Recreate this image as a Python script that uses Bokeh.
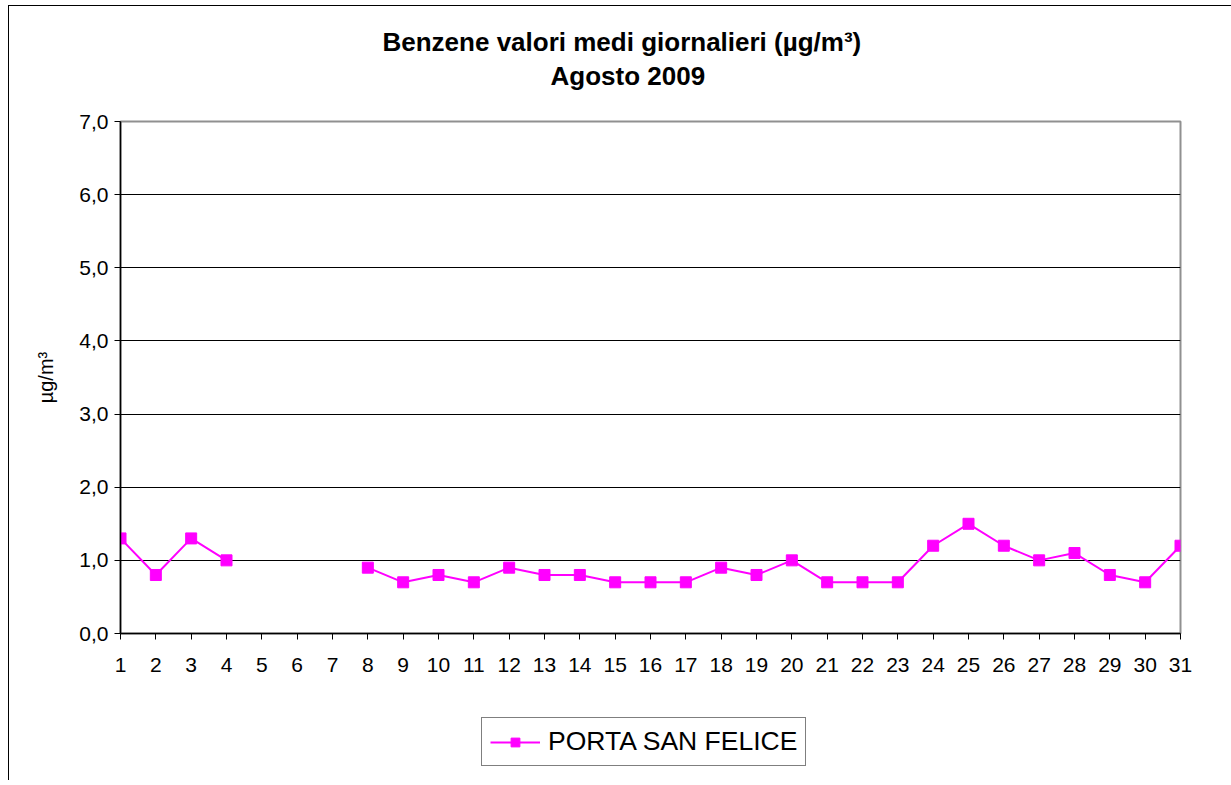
from bokeh.plotting import figure
from bokeh.layouts import column
from bokeh.models import (Range1d, FixedTicker, CustomJSTickFormatter, Legend, LegendItem,
                          Title, ColumnDataSource)
from bokeh.embed import file_html
from bokeh.resources import INLINE
import numpy as np

# ---- data ----
days = list(range(1, 32))
benzene = [1.3, 0.8, 1.3, 1.0, np.nan, np.nan, np.nan, 0.9, 0.7, 0.8, 0.7, 0.9, 0.8, 0.8,
           0.7, 0.7, 0.7, 0.9, 0.8, 1.0, 0.7, 0.7, 0.7, 1.2, 1.5, 1.2, 1.0, 1.1, 0.8, 0.7, 1.2]
series_name = "PORTA SAN FELICE"
y_ticks = [0, 1, 2, 3, 4, 5, 6, 7]
title_line1 = "Benzene valori medi giornalieri (µg/m³)"
title_line2 = "Agosto 2009"
y_label = "µg/m³"

FONT = "Liberation Sans"
MAGENTA = "#FF00FF"

p = figure(frame_width=1060, frame_height=512, output_backend="svg", toolbar_location=None,
           x_range=Range1d(days[0], days[-1]), y_range=Range1d(0, 7),
           min_border_left=111, min_border_right=51, min_border_top=115, min_border_bottom=67)

p.background_fill_color = "white"
p.border_fill_color = "white"
p.outline_line_color = "#909090"
p.outline_line_width = 2

src = ColumnDataSource(dict(x=days, y=benzene))
p.line("x", "y", source=src, line_color=MAGENTA, line_width=2)
p.scatter("x", "y", source=src, marker="square", size=11,
          fill_color=MAGENTA, line_color=MAGENTA)

# axes
p.xaxis.ticker = FixedTicker(ticks=days)
p.xaxis.minor_tick_line_color = None
p.xaxis.major_tick_in = 0
p.xaxis.major_tick_out = 6
p.xaxis.major_label_text_font = FONT
p.xaxis.major_label_text_font_size = "21px"
p.xaxis.major_label_text_color = "black"
p.xaxis.axis_line_color = "black"
p.xaxis.axis_line_width = 1.5
p.xaxis.major_label_standoff = 18

p.yaxis.ticker = FixedTicker(ticks=y_ticks)
p.yaxis.formatter = CustomJSTickFormatter(code="return tick.toFixed(1).replace('.', ',');")
p.yaxis.minor_tick_line_color = None
p.yaxis.major_tick_in = 0
p.yaxis.major_tick_out = 6
p.yaxis.major_label_text_font = FONT
p.yaxis.major_label_text_font_size = "21px"
p.yaxis.major_label_text_color = "black"
p.yaxis.axis_line_color = "black"
p.yaxis.axis_line_width = 1.5
p.yaxis.major_label_standoff = 6
p.yaxis.axis_label = y_label
p.yaxis.axis_label_text_font = FONT
p.yaxis.axis_label_text_font_size = "20px"
p.yaxis.axis_label_text_font_style = "normal"
p.yaxis.axis_label_text_color = "black"
p.yaxis.axis_label_standoff = 19

p.xgrid.visible = False
p.ygrid.ticker = FixedTicker(ticks=y_ticks[1:-1])
p.ygrid.grid_line_color = "black"
p.ygrid.grid_line_width = 1

# titles (stacked outward from the frame)
spacer = Title(text=" ", text_font_size="2px", standoff=26)
t2 = Title(text=title_line2, align="left", offset=430, text_font=FONT, text_color="black",
           text_font_size="26px", text_font_style="bold", standoff=2)
t1 = Title(text=title_line1, align="left", offset=262, text_font=FONT, text_color="black",
           text_font_size="26px", text_font_style="bold", standoff=2)
p.add_layout(spacer, "above")
p.add_layout(t2, "above")
p.add_layout(t1, "above")

# ---- legend strip below the chart (separate canvas so it is not clipped) ----
# its proxy glyphs reuse the series but sit outside this strip's visible ranges
lg = figure(frame_width=1222, frame_height=80, output_backend="svg", toolbar_location=None,
            x_axis_type=None, y_axis_type=None,
            x_range=Range1d(-101, -100), y_range=Range1d(-101, -100),
            min_border_left=0, min_border_right=0, min_border_top=0, min_border_bottom=0)
lg.outline_line_color = None
lg.xgrid.visible = False
lg.ygrid.visible = False
lg.background_fill_color = "white"
lg.border_fill_color = "white"
lg_src = ColumnDataSource(dict(x=days, y=benzene))
k_line = lg.line("x", "y", source=lg_src, line_color=MAGENTA, line_width=2)
k_pts = lg.scatter("x", "y", source=lg_src, marker="square", size=11,
                   fill_color=MAGENTA, line_color=MAGENTA)
legend = Legend(items=[LegendItem(label=series_name, renderers=[k_line, k_pts])],
                location=(472, 14), orientation="horizontal",
                label_text_font=FONT, label_text_font_size="26.5px", label_text_color="black",
                glyph_width=50, glyph_height=22, padding=8, spacing=0,
                border_line_color="black", border_line_width=1,
                margin=0, label_standoff=8, background_fill_alpha=1)
lg.add_layout(legend)

# outer chart border: only its left and top edges are visible in the reference
layout = column(p, lg, spacing=0,
                styles={"margin-left": "8px", "margin-top": "5px",
                        "border-left": "1px solid black", "border-top": "1px solid black"})

open("out.html", "w").write(file_html(layout, INLINE))
